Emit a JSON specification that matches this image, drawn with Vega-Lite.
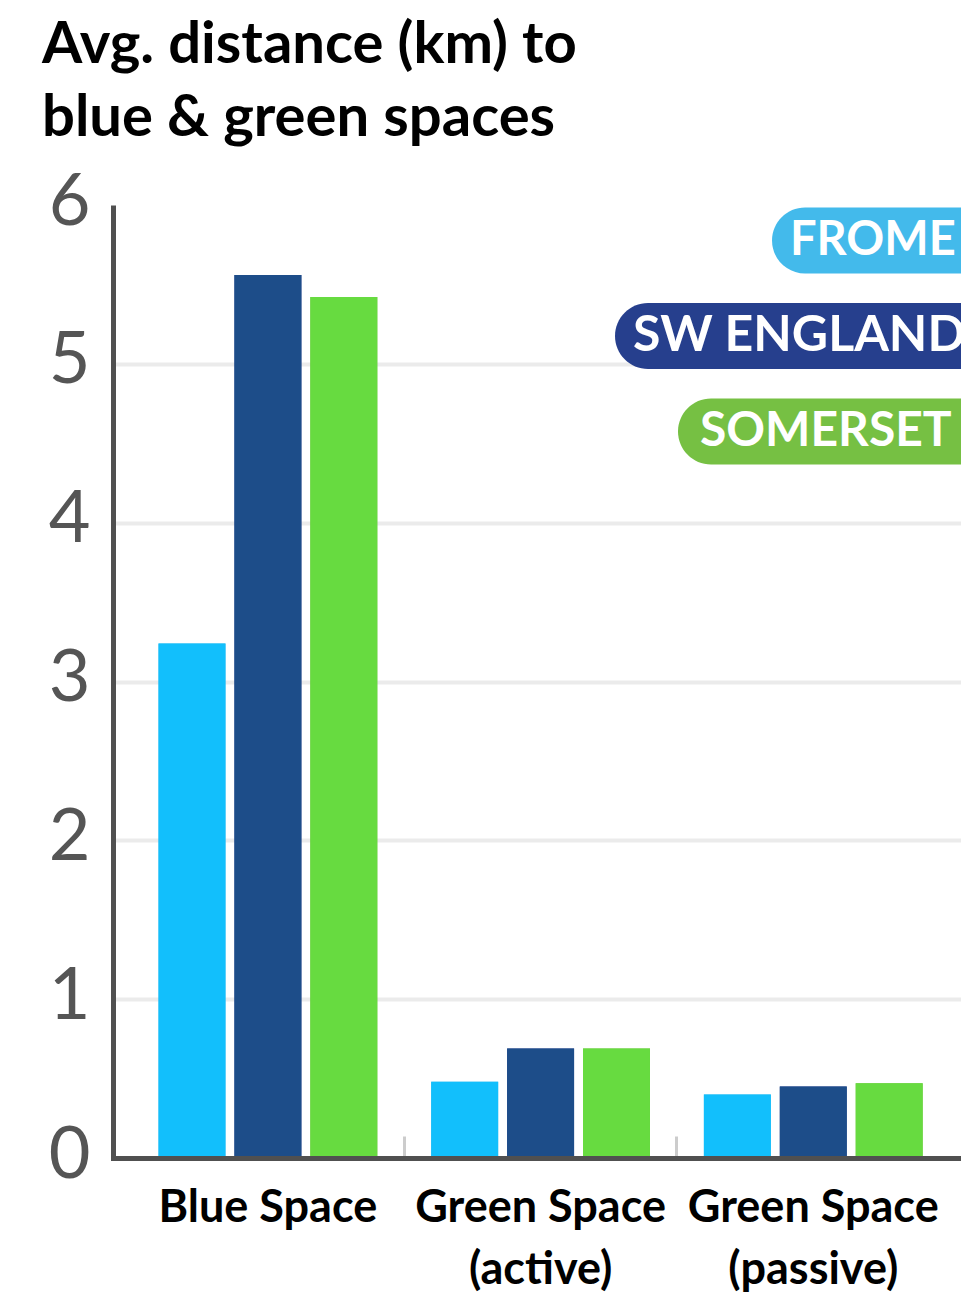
{
  "$schema": "https://vega.github.io/schema/vega-lite/v6.json",
  "width": 848,
  "height": 953,
  "autosize": {"type": "none"},
  "padding": {"left": 113, "top": 205, "right": 0, "bottom": 139},
  "background": "white",
  "title": {
    "text": ["Avg. distance (km) to", "blue & green spaces"],
    "anchor": "start",
    "frame": "group",
    "dx": -71,
    "offset": 18,
    "font": "Lato",
    "fontSize": 58,
    "fontWeight": "bold",
    "color": "#000000",
    "lineHeight": 73
  },
  "data": {
    "values": [
      {"category": "Blue Space", "region": "FROME", "distance": 3.24},
      {"category": "Blue Space", "region": "SW ENGLAND", "distance": 5.56},
      {"category": "Blue Space", "region": "SOMERSET", "distance": 5.42},
      {"category": "Green Space (active)", "region": "FROME", "distance": 0.48},
      {"category": "Green Space (active)", "region": "SW ENGLAND", "distance": 0.69},
      {"category": "Green Space (active)", "region": "SOMERSET", "distance": 0.69},
      {"category": "Green Space (passive)", "region": "FROME", "distance": 0.40},
      {"category": "Green Space (passive)", "region": "SW ENGLAND", "distance": 0.45},
      {"category": "Green Space (passive)", "region": "SOMERSET", "distance": 0.47}
    ]
  },
  "encoding": {
    "x": {
      "field": "category",
      "type": "nominal",
      "sort": ["Blue Space", "Green Space (active)", "Green Space (passive)"],
      "scale": {"paddingInner": 0, "paddingOuter": 0.0549, "align": 0.62},
      "axis": {
        "title": null,
        "labelAngle": 0,
        "domainColor": "#505050",
        "domainWidth": 5,
        "domainCap": "square",
        "bandPosition": 0,
        "tickColor": {"condition": {"test": "datum.value === 'Blue Space'", "value": "transparent"}, "value": "#cccccc"},
        "tickWidth": 3,
        "tickSize": -22,
        "labelFont": "Lato",
        "labelFontSize": 45,
        "labelFontWeight": "bold",
        "labelColor": "#000000",
        "labelBaseline": "top",
        "labelPadding": 49,
        "labelLineHeight": 62,
        "labelLimit": 1000,
        "labelOverlap": false,
        "labelExpr": "indexof(datum.label, ' (') > 0 ? [substring(datum.label, 0, indexof(datum.label, ' (')), substring(datum.label, indexof(datum.label, ' (') + 1)] : datum.label",
        "grid": false,
        "zindex": 1
      }
    },
    "xOffset": {
      "field": "region",
      "type": "nominal",
      "sort": ["FROME", "SW ENGLAND", "SOMERSET"],
      "scale": {"paddingInner": 0.118, "paddingOuter": 0.355}
    },
    "y": {
      "field": "distance",
      "type": "quantitative",
      "scale": {"domain": [0, 6], "nice": false},
      "axis": {
        "title": null,
        "values": [0, 1, 2, 3, 4, 5, 6],
        "domainColor": "#505050",
        "domainWidth": 5,
        "ticks": false,
        "labelFont": "Lato",
        "labelFontSize": 72,
        "labelFontWeight": 400,
        "labelColor": "#555555",
        "labelPadding": 23,
        "labelBaseline": "middle",
        "labelOffset": -3,
        "labelFlush": false,
        "labelOverlap": false,
        "grid": true,
        "gridColor": {"condition": {"test": "datum.value === 6", "value": "transparent"}, "value": "#ebebeb"},
        "gridWidth": 4,
        "zindex": 0
      }
    }
  },
  "layer": [
    {
      "mark": {"type": "bar"},
      "encoding": {
        "fill": {
          "field": "region",
          "type": "nominal",
          "sort": ["FROME", "SW ENGLAND", "SOMERSET"],
          "scale": {"domain": ["FROME", "SW ENGLAND", "SOMERSET"], "range": ["#43BAEB", "#263F8D", "#76C043"]},
          "legend": {
            "title": null,
            "orient": "none",
            "legendX": 654,
            "legendY": 2.5,
            "direction": "vertical",
            "padding": 0,
            "rowPadding": 29.5,
            "symbolSize": 4356,
            "symbolStrokeWidth": 0,
            "labelFont": "Lato",
            "labelFontSize": 50,
            "labelFontWeight": "bold",
            "labelColor": "#ffffff",
            "labelOffset": -200,
            "labelLimit": 1000,
            "labelBaseline": "middle",
            "encode": {
              "symbols": {
                "update": {
                  "shape": {"signal": "datum.value === 'FROME' ? 'M0.152,-1H7V1H0.152A1,1,0,0,1,0.152,-1Z' : datum.value === 'SW ENGLAND' ? 'M-4.606,-1H7V1H-4.606A1,1,0,0,1,-4.606,-1Z' : 'M-2.697,-1H7V1H-2.697A1,1,0,0,1,-2.697,-1Z'"},
                  "opacity": {"value": 1}
                }
              },
              "labels": {
                "update": {
                  "dx": {"signal": "datum.value === 'FROME' ? 157 : datum.value === 'SW ENGLAND' ? 0 : 67"},
                  "fontSize": {"signal": "datum.value === 'FROME' ? 47 : datum.value === 'SW ENGLAND' ? 50 : 48"}
                }
              }
            }
          }
        }
      }
    },
    {
      "mark": {"type": "bar"},
      "encoding": {
        "color": {
          "field": "region",
          "type": "nominal",
          "sort": ["FROME", "SW ENGLAND", "SOMERSET"],
          "scale": {"domain": ["FROME", "SW ENGLAND", "SOMERSET"], "range": ["#12BFFC", "#1D4D89", "#67DB40"]},
          "legend": null
        }
      }
    }
  ],
  "config": {
    "view": {"stroke": null},
    "font": "Lato"
  }
}
